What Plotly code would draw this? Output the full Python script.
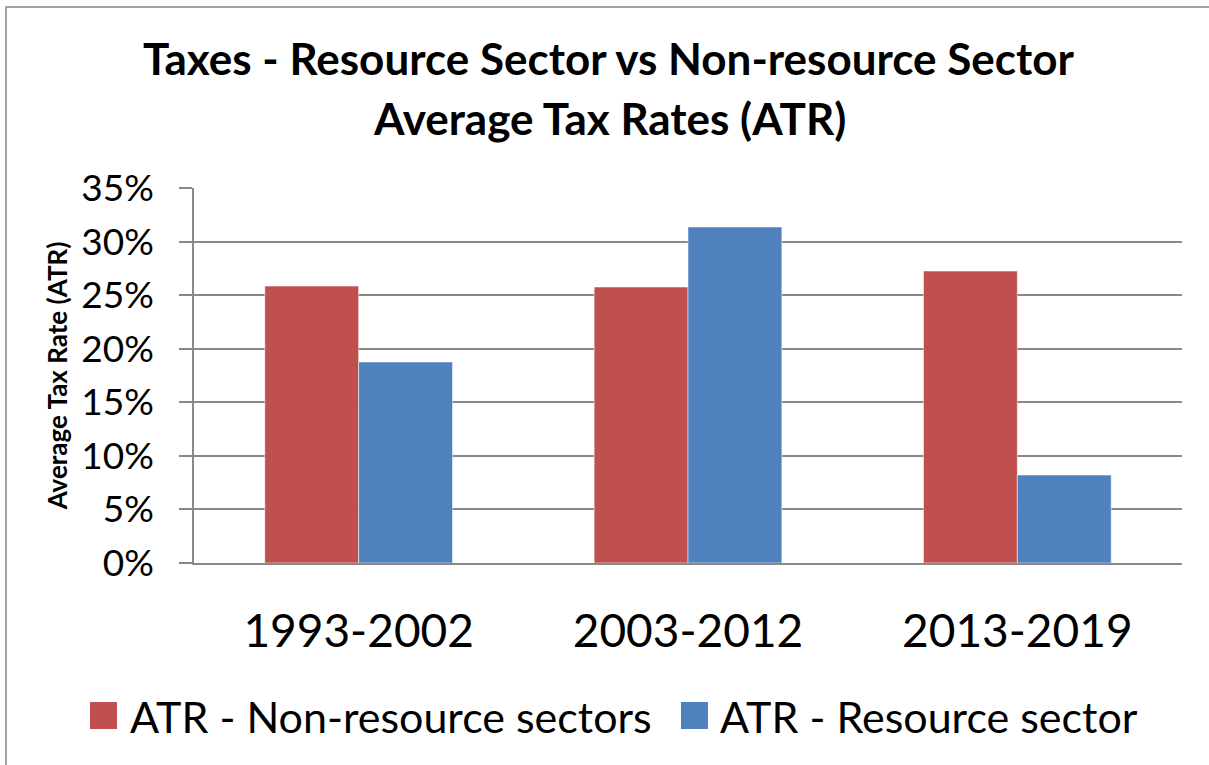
import plotly.graph_objects as go

periods = ["1993-2002", "2003-2012", "2013-2019"]
series_names = ["ATR - Non-resource sectors", "ATR - Resource sector"]
atr_non_resource = [0.2585, 0.2576, 0.2725]
atr_resource = [0.1876, 0.3136, 0.0821]
colors = ["#C0504D", "#4F81BD"]

FONT = "Lato"
GRID = "#898989"

# plot area in pixels, used to place the legend and border in paper coords
L, R, T, B = 194, 1182, 188, 563


def px(x):
    return (x - L) / (R - L)


def py(y):
    return (B - y) / (B - T)


fig = go.Figure()
for name, vals, col in zip(series_names, [atr_non_resource, atr_resource], colors):
    fig.add_trace(go.Bar(
        x=periods, y=vals, name=name,
        marker=dict(color=col, line=dict(color="rgba(255,255,255,0.5)", width=1)),
        showlegend=False,
    ))

fig.update_layout(
    width=1209, height=765,
    margin=dict(l=L, r=1209 - R, t=T, b=765 - B),
    paper_bgcolor="white", plot_bgcolor="white",
    barmode="group", bargap=0.43, bargroupgap=0,
    font=dict(family=FONT, color="black"),
)

fig.update_yaxes(
    range=[0, 0.35], dtick=0.05, tickformat=".0%",
    showgrid=True, gridcolor=GRID, gridwidth=1.5,
    showline=True, linecolor=GRID, linewidth=1.5,
    ticks="outside", ticklen=13, tickcolor=GRID, tickwidth=1.5,
    tickfont=dict(size=37, family=FONT), ticklabelstandoff=18,
    title=dict(text="<b>Average Tax Rate (ATR)</b>", font=dict(size=26, family=FONT), standoff=6),
    zeroline=False,
)
fig.update_xaxes(
    showline=True, linecolor=GRID, linewidth=1.5,
    tickfont=dict(size=46, family=FONT), ticks="", ticklabelstandoff=27,
)

# title, two lines
fig.add_annotation(text="<b>Taxes - Resource Sector vs Non-resource Sector</b>",
                   xref="paper", yref="paper", x=px(609), y=py(58),
                   xanchor="center", yanchor="middle",
                   showarrow=False, font=dict(size=44, family=FONT))
fig.add_annotation(text="<b>Average Tax Rates (ATR)</b>",
                   xref="paper", yref="paper", x=px(609), y=py(118),
                   xanchor="center", yanchor="middle",
                   showarrow=False, font=dict(size=44, family=FONT))

# legend drawn by hand so the swatches are as big as in the original
legend_pos = [(90, 128), (681, 718)]
for name, col, (sx, tx) in zip(series_names, colors, legend_pos):
    fig.add_shape(type="rect", xref="paper", yref="paper",
                  x0=px(sx), x1=px(sx + 27), y0=py(729), y1=py(702),
                  fillcolor=col, line=dict(width=0))
    fig.add_annotation(text=name, xref="paper", yref="paper",
                       x=px(tx), y=py(716), xanchor="left", yanchor="middle",
                       showarrow=False, font=dict(size=43, family=FONT))

# chart border
fig.add_shape(type="rect", xref="paper", yref="paper",
              x0=px(6), x1=px(1230), y0=py(790), y1=py(7),
              line=dict(color="#878787", width=1.5), fillcolor="rgba(0,0,0,0)")

# the page's default 8px body margin would shift everything
fig.write_html("out.html", config={"displayModeBar": False},
               post_script="document.body.style.margin='0';")
